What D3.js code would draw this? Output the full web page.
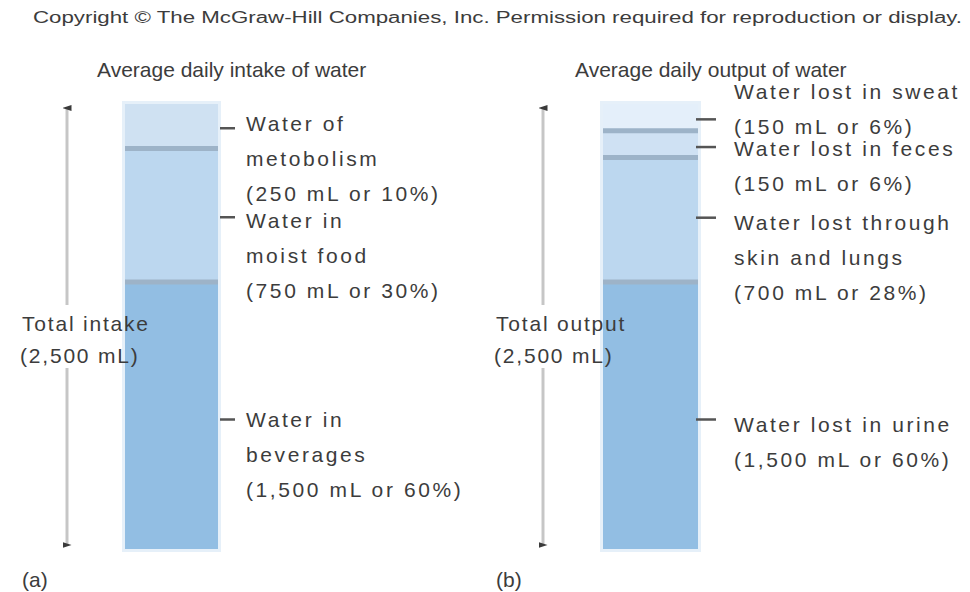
<!DOCTYPE html>
<html>
<head>
<meta charset="utf-8">
<script src="https://cdn.jsdelivr.net/npm/d3@7"></script>
<style>
  body { margin: 0; background: #fff; }
  text { font-family: "Liberation Sans", Arial, sans-serif; fill: #3c3c3c; }
</style>
</head>
<body>
<div id="chart"></div>
<script>
// Data
var intake_names = ['metabolism', 'moist food', 'beverages'];
var intake_values = [250, 750, 1500];
var intake_labels = [
    ['Water of', 'metobolism', '(250 mL or 10%)'],
    ['Water in', 'moist food', '(750 mL or 30%)'],
    ['Water in', 'beverages', '(1,500 mL or 60%)']
];

var output_names = ['sweat', 'feces', 'skin and lungs', 'urine'];
var output_values = [150, 150, 700, 1500];
var output_labels = [
    ['Water lost in sweat', '(150 mL or 6%)'],
    ['Water lost in feces', '(150 mL or 6%)'],
    ['Water lost through', 'skin and lungs', '(700 mL or 28%)'],
    ['Water lost in urine', '(1,500 mL or 60%)']
];

var total_value = 2500;
var intake_colors = ['#cfe1f2', '#bcd7ef', '#92bee3'];
var output_colors = ['#e4effa', '#cfe1f3', '#bcd7ef', '#92bee3'];

// SVG
var chart_width = 970;
var chart_height = 592;

var svg = d3.select('#chart')
    .append('svg')
    .attr('width', chart_width)
    .attr('height', chart_height);

var y_scale = d3.scaleLinear()
    .domain([0, total_value])
    .range([104, 549]);

// arrow head marker
var defs = svg.append('defs');
defs.append('marker')
    .attr('id', 'head')
    .attr('viewBox', '0 0 6 9')
    .attr('refX', 3)
    .attr('refY', 4.5)
    .attr('markerWidth', 6)
    .attr('markerHeight', 9)
    .attr('markerUnits', 'userSpaceOnUse')
    .attr('orient', 'auto-start-reverse')
    .append('path')
    .attr('d', 'M0,9 L3,0 L6,9 Z')
    .attr('fill', '#3a3a3a');

svg.append('text')
    .attr('x', 33)
    .attr('y', 23)
    .attr('font-size', 16)
    .attr('textLength', 929)
    .attr('lengthAdjust', 'spacingAndGlyphs')
    .attr('fill', '#444')
    .text('Copyright \u00A9 The McGraw-Hill Companies, Inc. Permission required for reproduction or display.');

function drawPanel(opts) {
    var g = svg.append('g');
    var x0 = opts.bar_x, x1 = opts.bar_x + opts.bar_w;

    // stacked segments, top to bottom
    var cum = d3.cumsum(opts.values);
    var segs = opts.values.map(function(v, i) {
        return { v: v, start: cum[i] - v, end: cum[i], color: opts.colors[i], label: opts.labels[i] };
    });

    g.append('text')
        .attr('x', opts.title_x)
        .attr('y', 77)
        .attr('font-size', 21)
        .text(opts.title);

    // light outline round the bar
    g.append('rect')
        .attr('x', x0 - 3)
        .attr('y', y_scale(0) - 3)
        .attr('width', opts.bar_w + 6)
        .attr('height', y_scale(total_value) - y_scale(0) + 6)
        .attr('fill', '#e6f0f9');

    g.selectAll('rect.seg')
        .data(segs)
        .enter()
        .append('rect')
        .attr('class', 'seg')
        .attr('x', x0)
        .attr('y', function(d) { return y_scale(d.start); })
        .attr('width', opts.bar_w)
        .attr('height', function(d) { return y_scale(d.end) - y_scale(d.start); })
        .attr('fill', function(d) { return d.color; });

    // dividers
    g.selectAll('line.div')
        .data(segs.slice(0, segs.length - 1))
        .enter()
        .append('line')
        .attr('x1', x0)
        .attr('x2', x1)
        .attr('y1', function(d) { return y_scale(d.end); })
        .attr('y2', function(d) { return y_scale(d.end); })
        .attr('stroke', '#9db3c8')
        .attr('stroke-width', 5);

    // label ticks + text
    segs.forEach(function(d, i) {
        var ty = (y_scale(d.start) + y_scale(d.end)) / 2 + opts.tick_shift[i];
        g.append('line')
            .attr('x1', x1 + opts.tick_gap)
            .attr('x2', x1 + opts.tick_gap + opts.tick_len)
            .attr('y1', ty)
            .attr('y2', ty)
            .attr('stroke', '#555')
            .attr('stroke-width', 2.5);
        g.append('text')
            .attr('x', opts.label_x)
            .attr('font-size', 21)
            .attr('letter-spacing', 2.6)
            .selectAll('tspan')
            .data(d.label)
            .enter()
            .append('tspan')
            .attr('x', opts.label_x)
            .attr('y', function(t, j) { return ty + opts.text_shift[i] + 7 + j * 35; })
            .text(function(t) { return t; });
    });

    // total arrow, broken by its label
    var ax = opts.arrow_x;
    g.append('line')
        .attr('x1', ax).attr('x2', ax)
        .attr('y1', 305).attr('y2', y_scale(0) + 4)
        .attr('stroke', '#c6c6c6')
        .attr('stroke-width', 3)
        .attr('marker-end', 'url(#head)');
    g.append('line')
        .attr('x1', ax).attr('x2', ax)
        .attr('y1', 368).attr('y2', y_scale(total_value) - 4)
        .attr('stroke', '#c6c6c6')
        .attr('stroke-width', 3)
        .attr('marker-end', 'url(#head)');

    g.append('text')
        .attr('x', opts.total_x)
        .attr('y', 331)
        .attr('font-size', 21)
        .attr('letter-spacing', 1.8)
        .text(opts.total_label);
    g.append('text')
        .attr('x', opts.total_x - 2)
        .attr('y', 363)
        .attr('font-size', 21)
        .attr('letter-spacing', 1.8)
        .text('(2,500 mL)');

    g.append('text')
        .attr('x', opts.total_x)
        .attr('y', 587)
        .attr('font-size', 21)
        .text(opts.panel);
}

drawPanel({
    title: 'Average daily intake of water',
    title_x: 97,
    values: intake_values,
    colors: intake_colors,
    labels: intake_labels,
    bar_x: 125,
    bar_w: 93,
    tick_gap: 2,
    tick_len: 15,
    tick_shift: [2, 2, 4],
    text_shift: [-4, 4, 0],
    label_x: 246,
    arrow_x: 67,
    total_x: 22,
    total_label: 'Total intake',
    panel: '(a)'
});

drawPanel({
    title: 'Average daily output of water',
    title_x: 575,
    values: output_values,
    colors: output_colors,
    labels: output_labels,
    bar_x: 603,
    bar_w: 95,
    tick_gap: -2,
    tick_len: 20,
    tick_shift: [2, 3, -2, 4],
    text_shift: [-27, 2, 5, 5],
    label_x: 734,
    arrow_x: 543,
    total_x: 496,
    total_label: 'Total output',
    panel: '(b)'
});
</script>
</body>
</html>
